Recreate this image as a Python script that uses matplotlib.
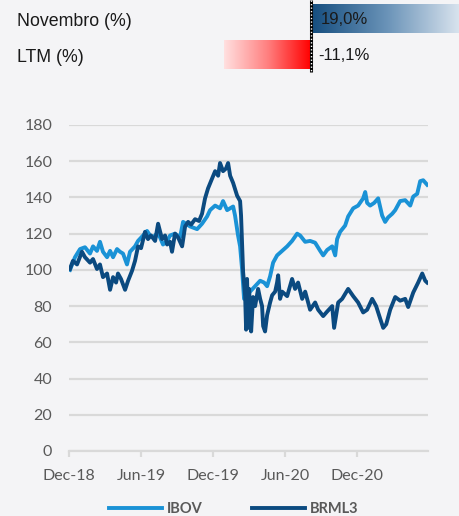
import matplotlib.pyplot as plt
import numpy as np
from matplotlib.colors import LinearSegmentedColormap

# Monthly performance (%)
perf_labels = ["Novembro (%)", "LTM (%)"]
perf_values = [19.0, -11.1]
perf_text = ["19,0%", "-11,1%"]

# Time axis in months since Dec-18
tick_months = [0, 6, 12, 18, 24]
tick_labels = ["Dec-18", "Jun-19", "Dec-19", "Jun-20", "Dec-20"]

ibov_t = [0.08, 0.5, 0.92, 1.33, 1.75, 2.0, 2.33, 2.58, 2.83, 3.17, 3.42, 3.67, 4.0, 4.25,
          4.5, 4.83, 5.08, 5.5, 5.75, 6.17, 6.5, 6.75, 7.0, 7.33, 7.58, 7.83, 8.17, 8.42,
          8.83, 9.25, 9.5, 10.08, 10.67, 11.08, 11.5, 11.75, 12.17, 12.58, 12.83, 13.17,
          13.42, 13.67, 13.83, 14.08, 14.25, 14.42, 14.58, 14.83, 15.08, 15.5, 15.92,
          16.25, 16.5, 16.75, 17.0, 17.33, 17.75, 18.17, 18.58, 19.0, 19.25, 19.67, 20.08,
          20.5, 20.92, 21.17, 21.5, 21.92, 22.17, 22.33, 22.58, 23.0, 23.25, 23.67, 24.08,
          24.5, 24.67, 24.83, 25.08, 25.42, 25.75, 26.08, 26.33, 26.58, 26.92, 27.17,
          27.58, 28.0, 28.42, 28.67, 29.0, 29.25, 29.5, 29.83]
ibov = [100, 107, 111.5, 112.5, 109, 113, 110.5, 115.5, 110, 107, 110.5, 107, 111.5, 110,
        109, 103, 110, 113, 116, 119, 121.5, 119, 118, 120, 118, 114, 116, 119,
        120, 118, 126.5, 124, 122.5, 125.5, 129.5, 133, 135.5, 134, 138, 133,
        134, 135, 130, 119, 113, 100, 84, 85.5, 88, 91, 94,
        93, 91, 96.5, 104, 108, 110.5, 113, 116, 120, 119, 115.5, 116,
        115, 110.5, 108, 111, 113, 108, 117, 121, 124.5, 129.5, 134, 135.5,
        139.5, 143, 137, 135.5, 137, 139.5, 130, 126.5, 129, 131, 133,
        138, 138.5, 135.5, 140.5, 142, 149, 149.5, 147]

brml_t = [0.08, 0.33, 0.67, 1.08, 1.33, 1.75, 2.0, 2.33, 2.58, 2.83, 3.17, 3.42, 3.67, 3.92,
          4.08, 4.33, 4.67, 4.92, 5.25, 5.5, 5.75, 6.0, 6.33, 6.58, 6.83, 7.17, 7.42, 7.75,
          8.0, 8.17, 8.42, 8.58, 8.83, 9.08, 9.42, 9.67, 9.92, 10.17, 10.5, 10.83, 11.08,
          11.33, 11.58, 11.92, 12.17, 12.42, 12.58, 12.83, 13.08, 13.25, 13.42, 13.67,
          14.0, 14.25, 14.33, 14.5, 14.67, 14.75, 14.83, 14.92, 15.0, 15.17, 15.33, 15.5,
          15.75, 15.92, 16.08, 16.17, 16.33, 16.5, 16.75, 16.92, 17.17, 17.33, 17.42,
          17.58, 17.75, 18.17, 18.58, 18.83, 19.08, 19.42, 19.67, 20.08, 20.5, 20.75,
          21.17, 21.5, 21.92, 22.08, 22.42, 22.75, 23.25, 23.67, 24.08, 24.5, 24.83,
          25.25, 25.58, 25.92, 26.17, 26.42, 26.75, 27.17, 27.58, 28.0, 28.25, 28.67,
          29.08, 29.42, 29.67, 29.83]
brml = [100.5, 105, 103, 110, 107, 104, 106, 100.5, 103, 96, 98, 89, 96, 93,
        98, 95, 89, 94, 99.5, 105, 113, 112, 121, 117, 119, 116, 125.5, 117,
        119, 114, 115.5, 110, 120, 118, 113, 124, 126.5, 125, 128, 127, 131,
        139.5, 145, 150.5, 154.5, 152, 159, 154.5, 156, 159, 152, 148,
        141, 138, 130, 99, 85.5, 67, 95, 68, 89.5, 66, 85, 80,
        89.5, 84, 80, 69, 66, 75, 82, 86, 88, 93, 97,
        84, 88, 85.5, 95, 89.5, 93, 84, 88, 78, 82, 78,
        74.5, 77, 80, 68, 82, 84, 89.5, 85.5, 82, 76.5, 78,
        84, 80, 73, 68, 70, 78, 85, 83, 84, 79.5, 87.5,
        93, 98, 94, 93]

BG = "#f4f4f6"
IBOV_C = "#1a92d6"
BRML_C = "#0b4a80"
GRID_C = "#d9d9d9"
TXT_C = "#595959"

fig = plt.figure(figsize=(4.59, 5.16), dpi=100, facecolor=BG)

# ---- top performance bars ----
W, H = 459, 516
zero_px = 311
px_per_pct = 7.85
bar_ax = fig.add_axes([0, 1 - 74 / H, 1, 74 / H])
bar_ax.set_facecolor(BG)
bar_ax.axis("off")

blue_cm = LinearSegmentedColormap.from_list("b", ["#174f80", "#6a93b8", "#dbe5ef"])
red_cm = LinearSegmentedColormap.from_list("r", ["#ffe0e0", "#ff8080", "#ff0000"])
grad = np.linspace(0, 1, 256).reshape(1, -1)
bar_rows = [(4, 33), (40, 69)]
for val, (y0, y1), cm in zip(perf_values, bar_rows, [blue_cm, red_cm]):
    x0, x1 = (0.2, val) if val > 0 else (val, -0.1)
    bar_ax.imshow(grad, cmap=cm, extent=[x0, x1, y1, y0], aspect="auto", interpolation="bilinear")
for lab, txt, val, (y0, y1) in zip(perf_labels, perf_text, perf_values, bar_rows):
    yc = (y0 + y1) / 2
    fig.text(17 / W, 1 - (yc + 3) / H, lab, fontsize=12.8, family="Liberation Sans",
             color="#1a1a1a", va="center", ha="left")
    bar_ax.text(1.2 if val > 0 else 0.95, yc + 1.5, txt, fontsize=12,
                family="Liberation Sans", color="#1a1a1a", va="center", ha="left")
bar_ax.vlines(0, 0, 72, color="black", lw=2.2)
bar_ax.vlines(0, 0, 72, color="white", lw=1, linestyles=(0, (1, 1.5)))
bar_ax.set_xlim(-zero_px / px_per_pct, (W - zero_px) / px_per_pct)
bar_ax.set_ylim(74, 0)

# ---- line chart ----
ax = fig.add_axes([69 / W, 1 - 451 / H, (428 - 69) / W, (451 - 125) / H])
ax.set_facecolor(BG)
ax.plot(ibov_t, ibov, color=IBOV_C, lw=2.8, solid_joinstyle="round", label="IBOV")
ax.plot(brml_t, brml, color=BRML_C, lw=2.8, solid_joinstyle="round", label="BRML3")
ax.set_ylim(0, 180)
ax.set_xlim(0, 29.9)
ax.set_yticks(np.arange(0, 181, 20))
ax.set_xticks(tick_months)
ax.set_xticklabels(tick_labels)
ax.grid(axis="y", color=GRID_C, lw=1.6)
ax.set_axisbelow(True)
for s in ["left", "right", "top"]:
    ax.spines[s].set_visible(False)
ax.spines["bottom"].set_color(GRID_C)
ax.spines["bottom"].set_linewidth(1.6)
ax.tick_params(axis="y", length=0, pad=12, labelsize=11.5, labelcolor=TXT_C)
ax.tick_params(axis="x", length=4, width=1.6, color=GRID_C, pad=9, labelsize=11.5, labelcolor=TXT_C)
for t in ax.get_xticklabels() + ax.get_yticklabels():
    t.set_family("Lato")

leg = fig.legend(loc="center", bbox_to_anchor=(234 / W, 1 - 509 / H), ncol=2, frameon=False,
                 handlelength=3.6, handletextpad=0.35, columnspacing=3.4,
                 prop={"family": "Lato", "weight": "bold", "size": 10.5})
for t in leg.get_texts():
    t.set_color(TXT_C)

fig.savefig("out.png", dpi=100, facecolor=BG)
